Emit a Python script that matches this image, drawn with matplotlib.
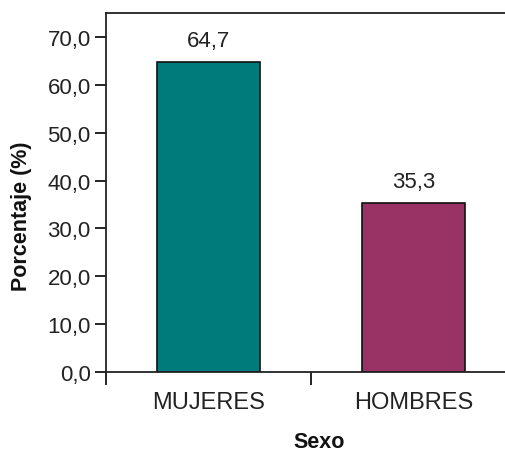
import matplotlib
matplotlib.use("Agg")
import matplotlib.pyplot as plt
from matplotlib.ticker import FixedLocator

categories = ["MUJERES", "HOMBRES"]
values = [64.7, 35.3]
value_labels = ["64,7", "35,3"]
colors = ["#007B7B", "#993366"]
yticks = [0, 10, 20, 30, 40, 50, 60, 70]
ytick_labels = ["0,0", "10,0", "20,0", "30,0", "40,0", "50,0", "60,0", "70,0"]

plt.rcParams['font.family'] = ['Liberation Sans', 'DejaVu Sans']

fig = plt.figure(figsize=(5.06, 4.52), dpi=100)
ax = fig.add_axes([106/506, (452-373)/452, 410/506, (373-14)/452])

x = list(range(len(categories)))
bars = ax.bar(x, values, width=0.5, color=colors, edgecolor="#111111", linewidth=1.2)
for xi, v, lab in zip(x, values, value_labels):
    ax.text(xi, v + 2.3, lab, ha="center", va="bottom", fontsize=16, color="#222222")

ax.set_xlim(-0.5, 1.5)
ax.set_ylim(0, 75)
ax.set_yticks(yticks)
ax.set_yticklabels(ytick_labels, fontsize=16, color="#222222")
ax.tick_params(axis="y", direction="out", length=8, width=1.2, pad=3)

ax.xaxis.set_major_locator(FixedLocator([-0.5, 0.5, 1.5]))
ax.set_xticklabels([])
ax.xaxis.set_minor_locator(FixedLocator(x))
ax.set_xticklabels(categories, minor=True, fontsize=17, color="#222222")
ax.tick_params(axis="x", which="major", direction="out", length=9, width=1.2)
ax.tick_params(axis="x", which="minor", length=0, pad=14)

ax.spines["right"].set_visible(False)
for s in ["left", "top", "bottom"]:
    ax.spines[s].set_linewidth(1.3)
    ax.spines[s].set_color("#222222")

ax.set_ylabel("Porcentaje (%)", fontsize=15.5, fontweight="bold", color="#111111")
ax.yaxis.set_label_coords(-0.18, 0.437)
ax.set_xlabel("Sexo", fontsize=15.5, fontweight="bold", color="#111111")
ax.xaxis.set_label_coords(0.52, -0.165)

fig.savefig("out.png", dpi=100)
